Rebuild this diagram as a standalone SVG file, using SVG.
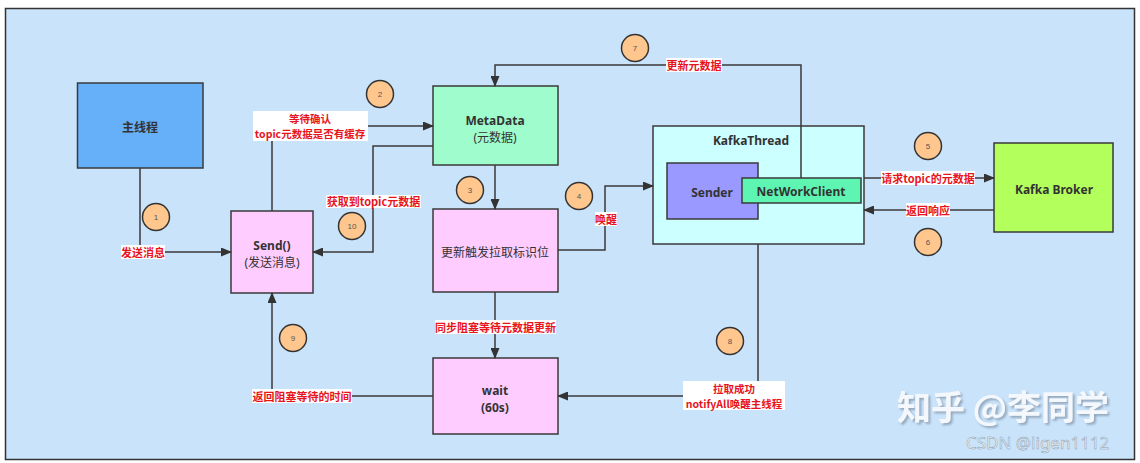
<svg xmlns="http://www.w3.org/2000/svg" width="1140" height="463" viewBox="0 0 1140 463">
<defs>
<marker id="arr" markerUnits="userSpaceOnUse" markerWidth="11" markerHeight="9" refX="10" refY="4.5" orient="auto">
<path d="M0,0 L11,4.5 L0,9 z" fill="#333"/>
</marker>
<filter id="sh" x="-10%" y="-30%" width="120%" height="160%">
<feDropShadow dx="2" dy="2" stdDeviation="0.8" flood-color="#7d8fa3" flood-opacity="0.7"/>
</filter>
<style>
.node{stroke:#3a3a3a;stroke-width:1.5}
.nt{font-family:"Noto Sans","Noto Sans CJK SC",sans-serif;font-size:12px;font-weight:bold;fill:#333;text-anchor:middle;dominant-baseline:central}
.nr{font-weight:normal}
.edge{fill:none;stroke:#3a3a3a;stroke-width:1.5;marker-end:url(#arr)}
.lb{fill:#fff}
.lt{font-family:"Noto Sans CJK SC","Noto Sans",sans-serif;font-size:11px;font-weight:bold;fill:#e8141c;text-anchor:middle;dominant-baseline:central}
.l2{font-size:10.5px}
.circ{fill:#ffc68d;stroke:#333;stroke-width:1.5}
.ct{font-family:"Liberation Sans",sans-serif;font-size:8px;fill:#555;text-anchor:middle;dominant-baseline:central}
.wm{font-family:"Noto Sans CJK SC",sans-serif}
</style>
</defs>
<rect x="0" y="0" width="1140" height="463" fill="#fff"/>
<rect x="5.5" y="8.5" width="1129" height="451" fill="#c9e3fb" stroke="#333" stroke-width="1.5"/>

<g id="main-thread"><rect class="node" x="77.5" y="83" width="125.5" height="85" fill="#66b0fa"/><text class="nt" x="140" y="127" font-size="13">主线程</text></g>
<g id="metadata"><rect class="node" x="433" y="86" width="125" height="79" fill="#9ffccc"/><text class="nt" x="495" y="120">MetaData</text><text class="nt nr" x="495" y="137">(元数据)</text></g>
<g id="update-flag"><rect class="node" x="433" y="209" width="125" height="83" fill="#ffccff"/><text class="nt nr" x="495" y="252" font-size="11">更新触发拉取标识位</text></g>
<g id="send"><rect class="node" x="231" y="211" width="82" height="82" fill="#ffccff"/><text class="nt" x="272" y="245">Send()</text><text class="nt nr" x="272" y="262">(发送消息)</text></g>
<g id="wait"><rect class="node" x="433" y="358" width="125" height="76" fill="#ffccff"/><text class="nt" x="495" y="390">wait</text><text class="nt" x="495" y="407">(60s)</text></g>
<g id="kafka-thread"><rect class="node" x="653" y="126" width="211" height="118" fill="#ccffff"/><text class="nt" x="751" y="140">KafkaThread</text></g>
<g id="sender"><rect class="node" x="667" y="163" width="91" height="56" fill="#9999ff"/><text class="nt" x="712" y="192">Sender</text></g>
<g id="network-client"><rect class="node" x="742" y="178" width="119" height="25" fill="#5ef5b2"/><text class="nt" x="801" y="191">NetWorkClient</text></g>
<g id="kafka-broker"><rect class="node" x="994" y="143" width="119" height="89" fill="#b3ff5c"/><text class="nt" x="1054" y="189">Kafka Broker</text></g>

<g id="connectors">
<path class="edge" d="M140,168 V252 H231"/>
<path class="edge" d="M272,211 V126 H433"/>
<path class="edge" d="M495,165 V209"/>
<path class="edge" d="M558,250 H605 V186 H653"/>
<path class="edge" d="M864,178 H994"/>
<path class="edge" d="M994,210 H864"/>
<path class="edge" d="M801,178 V65 H495 V86"/>
<path class="edge" d="M758,244 V396 H558"/>
<path class="edge" d="M433,396 H272 V293"/>
<path class="edge" d="M433,146 H373 V252 H313"/>
<path class="edge" d="M495,292 V358"/>
</g>

<g id="labels">
<rect class="lb" x="121" y="245" width="44" height="14"/><text class="lt" x="143" y="252">发送消息</text>
<rect class="lb" x="253" y="111" width="115" height="30"/><text class="lt l2" x="310" y="118.5">等待确认</text><text class="lt l2" x="310" y="133.5">topic元数据是否有缓存</text>
<rect class="lb" x="326" y="195" width="95" height="13"/><text class="lt" x="373.5" y="201">获取到topic元数据</text>
<rect class="lb" x="595" y="212" width="22" height="14"/><text class="lt" x="606" y="219">唤醒</text>
<rect class="lb" x="881" y="171" width="94" height="14"/><text class="lt" x="928" y="178">请求topic的元数据</text>
<rect class="lb" x="906" y="203" width="44" height="14"/><text class="lt" x="928" y="210">返回响应</text>
<rect class="lb" x="666" y="58" width="56" height="14"/><text class="lt" x="694" y="65">更新元数据</text>
<rect class="lb" x="683" y="381" width="102" height="29"/><text class="lt l2" x="734" y="388">拉取成功</text><text class="lt l2" x="734" y="403">notifyAll唤醒主线程</text>
<rect class="lb" x="252" y="389" width="100" height="14"/><text class="lt" x="302" y="396">返回阻塞等待的时间</text>
<rect class="lb" x="435" y="320" width="121" height="14"/><text class="lt" x="495.5" y="327">同步阻塞等待元数据更新</text>
</g>

<g id="steps">
<circle class="circ" cx="156" cy="217" r="13.5"/><text class="ct" x="156" y="217">1</text>
<circle class="circ" cx="380" cy="94" r="13.5"/><text class="ct" x="380" y="94">2</text>
<circle class="circ" cx="470" cy="190" r="13.5"/><text class="ct" x="470" y="190">3</text>
<circle class="circ" cx="579" cy="196" r="13.5"/><text class="ct" x="579" y="196">4</text>
<circle class="circ" cx="928" cy="146" r="13.5"/><text class="ct" x="928" y="146">5</text>
<circle class="circ" cx="928" cy="242" r="13.5"/><text class="ct" x="928" y="242">6</text>
<circle class="circ" cx="635" cy="48" r="13.5"/><text class="ct" x="635" y="48">7</text>
<circle class="circ" cx="730" cy="341" r="13.5"/><text class="ct" x="730" y="341">8</text>
<circle class="circ" cx="293" cy="338" r="13.5"/><text class="ct" x="293" y="338">9</text>
<circle class="circ" cx="352" cy="226" r="13.5"/><text class="ct" x="352" y="226">10</text>
</g>

<g id="watermark">
<text class="wm" x="897" y="420" font-size="34" font-weight="bold" fill="#f4f8fc" filter="url(#sh)">知乎 @李同学</text>
<text x="966" y="449" font-family="Noto Sans, sans-serif" font-size="17" fill="#eef3f8" stroke="#8c9cad" stroke-width="0.5">CSDN @ligen1112</text>
</g>
</svg>
